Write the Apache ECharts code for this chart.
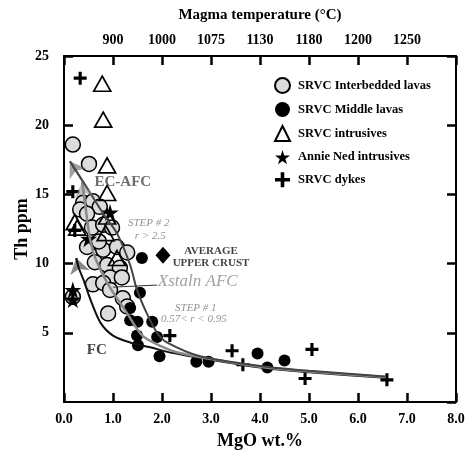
<!DOCTYPE html>
<html><head><meta charset="utf-8">
<script src="https://cdn.jsdelivr.net/npm/echarts@6/dist/echarts.min.js"></script>
<style>html,body{margin:0;padding:0;background:#fff}#c{width:466px;height:452px}</style>
</head><body><div id="c"></div>
<script>
// ---- data ----
const xTicks = [0,1,2,3,4,5,6,7,8];
const tempLabels = ['', '900', '1000', '1075', '1130', '1180', '1200', '1250', ''];
const interbedded = [[0.18,18.6],[0.51,17.2],[0.39,14.4],[0.59,14.5],[0.73,14.1],[0.33,13.9],[0.47,13.6],[0.57,12.6],[0.80,12.8],[0.98,12.6],[0.47,11.2],[0.80,11.0],[1.08,11.2],[1.29,10.8],[0.63,10.1],[0.88,9.9],[1.14,9.7],[0.94,9.0],[1.18,9.0],[0.59,8.5],[0.80,8.6],[0.94,8.1],[1.20,7.5],[1.29,6.9],[0.90,6.4],[0.18,7.6],[0.71,11.6]];
const middle = [[1.59,10.4],[1.55,7.9],[1.35,6.8],[1.35,5.9],[1.50,5.8],[1.80,5.8],[1.49,4.8],[1.90,4.7],[1.51,4.1],[1.95,3.3],[2.70,2.9],[2.95,2.9],[3.95,3.5],[4.15,2.5],[4.50,3.0]];
const intrusives = [[0.78,23.0],[0.80,20.4],[0.88,17.1],[0.88,15.1],[0.22,13.0],[0.88,13.4],[0.85,12.2],[1.08,10.4],[0.27,12.6]];
const annieNed = [[0.94,13.7],[0.18,8.1],[0.18,7.4],[0.50,11.8]];
const dykes = [[0.33,23.4],[0.18,15.2],[0.22,12.4],[2.16,4.8],[3.43,3.7],[3.65,2.7],[5.06,3.8],[4.92,1.7],[6.59,1.6]];
const upperCrust = [[2.02,10.6]];
const fcCurve = [[6.55,1.75],[5.0,2.15],[4.0,2.5],[3.0,3.05],[2.2,3.55],[1.76,3.95],[1.35,4.3],[1.0,4.8],[0.75,5.7],[0.55,7.3],[0.4,8.8],[0.3,9.7]];
const fcTip = [0.25,10.4];
const xstalnCurve = [[6.55,1.8],[5.0,2.2],[4.0,2.55],[3.0,3.1],[2.3,3.6],[2.0,4.0],[1.6,4.8],[1.29,6.4],[0.9,8.5],[0.65,10.3],[0.53,11.8],[0.45,13.8]];
const xstalnTip = [0.37,15.9];
const ecCurve = [[6.55,1.85],[5.0,2.25],[4.0,2.6],[2.78,3.3],[2.1,4.3],[1.9,5.0],[1.69,6.4],[1.49,8.1],[1.35,9.9],[1.08,12.2],[0.84,13.4],[0.5,15.3]];
const ecTip = [0.12,17.4];
const xstalnPointer = [[1.0,8.3],[1.9,8.45]];

const serif = '"Liberation Serif","DejaVu Serif",serif';
const starPath = 'path://M50,0 L61,35 L98,35 L68,57 L79,91 L50,70 L21,91 L32,57 L2,35 L39,35 Z';
const plusPath = 'path://M38,0 H62 V38 H100 V62 H62 V100 H38 V62 H0 V38 H38 Z';

function textPt(coord, text, style){ return {value: coord, label: Object.assign({show:true, formatter:text, position:'inside', fontFamily:serif}, style)}; }
const annotations = [
  textPt([1.20,15.9],'EC-AFC',{fontSize:15,fontWeight:'bold',color:'#4a4a4a'}),
  textPt([1.73,12.9],'STEP # 2',{fontSize:11,fontStyle:'italic',color:'#777'}),
  textPt([1.76,12.0],'r > 2.5',{fontSize:11,fontStyle:'italic',color:'#777'}),
  textPt([3.0,10.9],'AVERAGE',{fontSize:11,fontWeight:'bold',color:'#111'}),
  textPt([3.0,10.0],'UPPER CRUST',{fontSize:11,fontWeight:'bold',color:'#111'}),
  textPt([2.73,8.7],'Xstaln AFC',{fontSize:17,fontStyle:'italic',color:'#888'}),
  textPt([2.69,6.8],'STEP # 1',{fontSize:11,fontStyle:'italic',color:'#777'}),
  textPt([2.65,6.0],'0.57< r < 0.95',{fontSize:11,fontStyle:'italic',color:'#777'}),
  textPt([0.67,3.75],'FC',{fontSize:15,fontWeight:'bold',color:'#111'})
];

const chart = echarts.init(document.getElementById('c'), null, {renderer:'canvas'});
const axisLine = () => ({show:true, onZero:false, lineStyle:{color:'#000', width:2}});
const tick = () => ({show:true, inside:true, length:9, lineStyle:{color:'#000', width:2.5}});
const lbl = () => ({fontFamily:serif, fontWeight:'bold', fontSize:14, color:'#000'});
chart.setOption({
  animation:false,
  backgroundColor:'#fff',
  grid:{left:64, right:10, top:56, bottom:50, containLabel:false, outerBoundsMode:'none'},
  xAxis:[
    {type:'value', position:'bottom', min:0, max:8, interval:1, axisLine:axisLine(), axisTick:tick(), splitLine:{show:false},
     axisLabel:Object.assign({formatter:v=>v.toFixed(1), margin:10}, lbl()),
     name:'MgO wt.%', nameLocation:'middle', nameGap:30, nameMoveOverlap:false,
     nameTextStyle:{fontFamily:serif, fontWeight:'bold', fontSize:18, color:'#000'}},
    {type:'value', position:'top', min:0, max:8, interval:1, axisLine:axisLine(), axisTick:tick(), splitLine:{show:false},
     axisLabel:Object.assign({formatter:v=>tempLabels[xTicks.indexOf(v)]||'', margin:9}, lbl()),
     name:'Magma temperature (°C)', nameLocation:'middle', nameGap:33, nameMoveOverlap:false,
     nameTextStyle:{fontFamily:serif, fontWeight:'bold', fontSize:15, color:'#000'}}
  ],
  yAxis:[
    {type:'value', position:'left', min:0, max:25, interval:5, axisLine:axisLine(), axisTick:tick(), splitLine:{show:false},
     axisLabel:Object.assign({showMinLabel:false, margin:15}, lbl()),
     name:'Th ppm', nameLocation:'middle', nameGap:33, nameRotate:90, nameMoveOverlap:false,
     nameTextStyle:{fontFamily:serif, fontWeight:'bold', fontSize:18, color:'#000'}},
    {type:'value', position:'right', min:0, max:25, interval:5, axisLine:axisLine(), axisTick:tick(), splitLine:{show:false},
     axisLabel:{show:false}}
  ],
  legend:{
    orient:'vertical', left:269, top:72, itemGap:8, itemWidth:15, itemHeight:15,
    textStyle:{fontFamily:serif, fontWeight:'bold', fontSize:12.5, color:'#000', padding:[0,0,0,3]},
    data:[
      {name:'SRVC Interbedded lavas', icon:'circle'},
      {name:'SRVC Middle lavas', icon:'circle', itemStyle:{color:'#000'}},
      {name:'SRVC intrusives', icon:'triangle'},
      {name:'Annie Ned intrusives', icon:starPath},
      {name:'SRVC dykes', icon:plusPath}
    ]
  },
  series:[
    {name:'SRVC Interbedded lavas', type:'scatter', data:interbedded, symbol:'circle', symbolSize:15, z:2,
     itemStyle:{color:'#dcdcdc', borderColor:'#000', borderWidth:1.5, opacity:1}},
    {name:'SRVC intrusives', type:'scatter', data:intrusives, symbol:'triangle', symbolSize:[17,15], z:3,
     itemStyle:{color:'rgba(255,255,255,0)', borderColor:'#000', borderWidth:1.7, opacity:1}},
    {name:'SRVC Middle lavas', type:'scatter', data:middle, symbol:'circle', symbolSize:12, z:3,
     itemStyle:{color:'#000', opacity:1}},
    {name:'Annie Ned intrusives', type:'scatter', data:annieNed, symbol:starPath, symbolSize:17, z:3,
     itemStyle:{color:'#000', opacity:1}},
    {name:'SRVC dykes', type:'scatter', data:dykes, symbol:plusPath, symbolSize:13, z:3,
     itemStyle:{color:'#000', opacity:1}},
    {name:'Average upper crust', type:'scatter', data:upperCrust, symbol:'diamond', symbolSize:[15,17], z:3,
     itemStyle:{color:'#000', opacity:1}},
    {name:'FC', type:'line', data:fcCurve.concat([fcTip]), smooth:0.3, symbol:'none', z:5,
     lineStyle:{color:'#111', width:2}},
    {name:'Xstaln', type:'line', data:xstalnCurve.concat([xstalnTip]), smooth:0.3, symbol:'none', z:5,
     lineStyle:{color:'#8a8a8a', width:2.5}},
    {name:'EC', type:'line', data:ecCurve.concat([ecTip]), smooth:0.3, symbol:'none', z:5,
     lineStyle:{color:'#444', width:2}},
    {name:'arrows', type:'lines', coordinateSystem:'cartesian2d', z:6, symbol:['none','arrow'], symbolSize:15,
     data:[
       {coords:[fcCurve[fcCurve.length-1], fcTip], lineStyle:{color:'#111', width:2}},
       {coords:[xstalnCurve[xstalnCurve.length-1], xstalnTip], lineStyle:{color:'#8a8a8a', width:2.5}},
       {coords:[ecCurve[ecCurve.length-1], ecTip], lineStyle:{color:'#444', width:2}}
     ]},
    {name:'pointer', type:'line', data:xstalnPointer, symbol:'none', z:5, lineStyle:{color:'#333', width:1}},
    {name:'annotations', type:'scatter', data:annotations, symbolSize:0, z:7, itemStyle:{color:'rgba(0,0,0,0)'}, silent:true}
  ]
});
</script></body></html>
